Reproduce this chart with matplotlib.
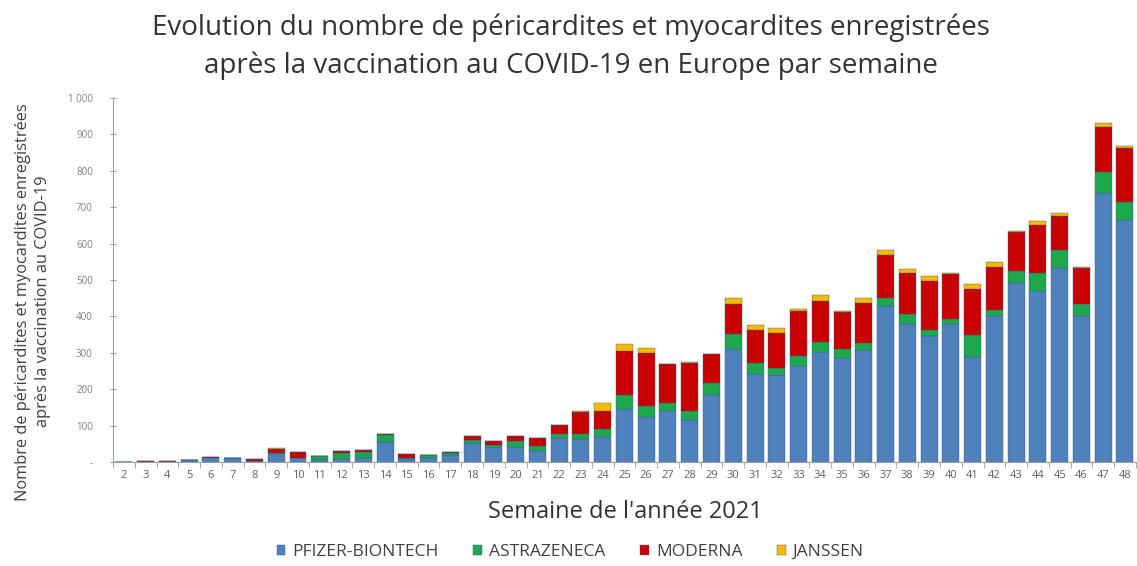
import numpy as np
import matplotlib
matplotlib.use("Agg")
from matplotlib import pyplot as plt

# weeks of 2021
weeks = np.arange(2, 49)

# reports per week
pfizer = [1, 1, 1, 5, 12, 10, 3, 21, 10, 5, 8, 10, 56, 8, 10, 18, 52, 40, 40, 30,
          65, 62, 70, 146, 124, 141, 115, 184, 310, 241, 239, 264, 303, 285, 308,
          429, 379, 346, 379, 289, 402, 492, 470, 532, 402, 739, 665]
astrazeneca = [0, 0, 0, 0, 0, 0, 0, 4, 2, 11, 18, 17, 18, 3, 8, 8, 8, 8, 17, 13,
               13, 15, 22, 38, 29, 22, 24, 32, 41, 30, 18, 26, 26, 26, 18,
               21, 27, 18, 13, 60, 17, 32, 48, 50, 31, 58, 49]
moderna = [0, 2, 2, 0, 1, 0, 5, 12, 15, 0, 3, 6, 2, 10, 0, 2, 12, 11, 14, 22,
           25, 60, 48, 121, 146, 105, 132, 80, 82, 92, 98, 125, 113, 100, 112,
           119, 114, 134, 124, 125, 117, 108, 133, 93, 101, 124, 148]
janssen = [0, 0, 0, 0, 0, 0, 0, 1, 0, 0, 0, 0, 0, 0, 0, 0, 0, 0, 0, 0,
           0, 2, 21, 18, 14, 2, 3, 0, 18, 13, 12, 5, 16, 4, 14,
           14, 9, 13, 3, 14, 14, 3, 11, 10, 2, 11, 5]

series = [("PFIZER-BIONTECH", pfizer, "#4f81bd"),
          ("ASTRAZENECA", astrazeneca, "#1fa74e"),
          ("MODERNA", moderna, "#c80000"),
          ("JANSSEN", janssen, "#f7b800")]

plt.rcParams['font.family'] = ['Open Sans', 'DejaVu Sans']

fig = plt.figure(figsize=(11.37, 5.66), dpi=100)
ax = fig.add_axes([0.0994, 0.1837, 0.8996, 0.6431])

bottom = np.zeros(len(weeks))
for name, vals, col in series:
    vals = np.array(vals, dtype=float)
    ax.bar(weeks, vals, bottom=bottom, width=0.78, color=col, label=name,
           edgecolor="#3a5f85", linewidth=0.3)
    bottom += vals

ax.set_xlim(1.55, 48.5)
ax.set_ylim(0, 1000)

yt = np.arange(0, 1001, 100)
ylabels = ["-"] + [str(v) for v in yt[1:-1]] + ["1 000"]
ax.set_yticks(yt)
ax.set_yticklabels(ylabels, fontsize=7, color="#808080")
ax.set_xticks(weeks)
ax.set_xticklabels([str(w) for w in weeks], fontsize=8, color="#606060")
ax.set_xticks(np.arange(1.5, 49, 1), minor=True)
ax.tick_params(axis="x", which="major", length=0, pad=6)
ax.tick_params(axis="x", which="minor", length=4, color="#a0a0a0", direction="out")
ax.tick_params(axis="y", length=5, color="#a0a0a0", direction="inout", pad=12)

for s in ["top", "right"]:
    ax.spines[s].set_visible(False)
ax.spines["left"].set_color("#a0a0a0")
ax.spines["bottom"].set_color("#a0a0a0")

fig.text(0.502, 0.951, "Evolution du nombre de péricardites et myocardites enregistrées",
         ha="center", va="center", fontsize=20, color="#333333")
fig.text(0.502, 0.883, "après la vaccination au COVID-19 en Europe par semaine",
         ha="center", va="center", fontsize=20, color="#333333")

fig.text(0.55, 0.095, "Semaine de l'année 2021", ha="center", va="center",
         fontsize=17, color="#333333")
fig.text(0.029, 0.467, "Nombre de péricardites et myocardites enregistrées\naprès la vaccination au COVID-19",
         ha="center", va="center", rotation=90, fontsize=11.8, color="#404040",
         linespacing=1.35)

ax.legend(loc="center", bbox_to_anchor=(0.447, -0.247), ncol=4, frameon=False,
          fontsize=12.5, handlelength=0.5, handleheight=0.5, columnspacing=2.0,
          handletextpad=0.4, labelcolor="#404040")

fig.savefig("out.png", dpi=100)
